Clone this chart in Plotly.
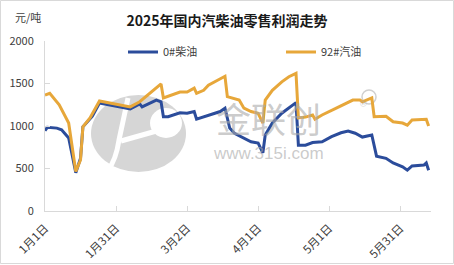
import plotly.graph_objects as go

# ---- data ----
diesel_dates = ["2025-01-01","2025-01-02","2025-01-06","2025-01-08","2025-01-11","2025-01-14",
    "2025-01-16","2025-01-17","2025-01-21","2025-01-24","2025-02-06","2025-02-10","2025-02-11",
    "2025-02-17","2025-02-19","2025-02-20","2025-02-22","2025-02-27","2025-03-02","2025-03-05",
    "2025-03-06","2025-03-09","2025-03-12","2025-03-16","2025-03-18","2025-03-20","2025-03-22",
    "2025-03-26","2025-03-29","2025-04-01","2025-04-03","2025-04-04","2025-04-07","2025-04-11",
    "2025-04-13","2025-04-17","2025-04-18","2025-04-21","2025-04-24","2025-04-28","2025-05-02",
    "2025-05-06","2025-05-09","2025-05-12","2025-05-15","2025-05-19","2025-05-21","2025-05-25",
    "2025-05-28","2025-06-01","2025-06-03","2025-06-05","2025-06-10","2025-06-11","2025-06-12"]
diesel_values = [945,985,975,955,860,450,
    620,990,1115,1270,1200,1260,1225,
    1305,1285,1110,1110,1155,1150,1170,
    1080,1105,1130,1170,1210,975,915,
    860,815,800,685,895,1035,1150,
    1190,1275,775,775,805,815,875,
    920,940,915,870,895,645,620,
    565,520,480,530,540,565,480]

gas_dates = ["2025-01-01","2025-01-03","2025-01-07","2025-01-11","2025-01-14","2025-01-16",
    "2025-01-17","2025-01-20","2025-01-24","2025-02-06","2025-02-10","2025-02-15","2025-02-19",
    "2025-02-20","2025-02-27","2025-03-02","2025-03-05","2025-03-06","2025-03-09","2025-03-11",
    "2025-03-18","2025-03-19","2025-03-24","2025-03-26","2025-03-29","2025-04-01","2025-04-03",
    "2025-04-04","2025-04-07","2025-04-11","2025-04-14","2025-04-17","2025-04-18","2025-04-21",
    "2025-04-24","2025-04-25","2025-04-28","2025-05-04","2025-05-08","2025-05-11","2025-05-14",
    "2025-05-15","2025-05-19","2025-05-20","2025-05-25","2025-05-28","2025-06-01","2025-06-03",
    "2025-06-05","2025-06-11","2025-06-12"]
gas_values = [1365,1385,1250,1035,465,600,
    990,1095,1295,1225,1285,1400,1495,
    1330,1400,1400,1445,1385,1420,1480,
    1585,1345,1305,1210,1170,1150,1035,
    1305,1420,1520,1580,1620,1095,1105,
    1130,1080,1130,1210,1270,1305,1305,
    1285,1330,1110,1115,1050,1035,1010,
    1070,1080,1000]

tick_dates = ["2025-01-01","2025-01-31","2025-03-02","2025-04-01","2025-05-01","2025-05-31"]
tick_labels = ["1月1日","1月31日","3月2日","4月1日","5月1日","5月31日"]
y_ticks = [0, 500, 1000, 1500, 2000]

title_text = "2025年国内汽柴油零售利润走势"
unit_text = "元/吨"
names = ["0#柴油", "92#汽油"]

# ---- figure ----
W, H = 454, 265
L, R, T, B = 45, 23, 41, 54
pw, ph = W - L - R, H - T - B

def px(x):  # pixel -> paper x
    return (x - L) / pw

def py(y):  # pixel -> paper y
    return (H - B - y) / ph

FONT = "Noto Sans CJK SC, Microsoft YaHei, sans-serif"
WM = "rgba(170,170,170,0.62)"

fig = go.Figure()
fig.add_trace(go.Scatter(x=diesel_dates, y=diesel_values, name=names[0], mode="lines",
                         line=dict(color="#2B4C9B", width=3), legend="legend"))
fig.add_trace(go.Scatter(x=gas_dates, y=gas_values, name=names[1], mode="lines",
                         line=dict(color="#E7A73A", width=3), legend="legend2"))

shapes = []
# watermark logo
shapes.append(dict(type="circle", xref="paper", yref="paper", layer="below",
                   x0=px(91), x1=px(186), y0=py(172), y1=py(95),
                   fillcolor="#d6d6d6", line=dict(width=0)))
shapes.append(dict(type="path", xref="paper", yref="paper", layer="below",
                   path=f"M {px(128)} {py(98)} L {px(119)} {py(140)} Q {px(116)} {py(160)} {px(108)} {py(170)}",
                   line=dict(color="white", width=5)))
shapes.append(dict(type="path", xref="paper", yref="paper", layer="below",
                   path=f"M {px(121)} {py(141)} L {px(160)} {py(130)}",
                   line=dict(color="white", width=5)))
shapes.append(dict(type="circle", xref="paper", yref="paper", layer="below",
                   x0=px(150), x1=px(182), y0=py(138), y1=py(108),
                   fillcolor="white", line=dict(width=0)))
shapes.append(dict(type="circle", xref="paper", yref="paper", layer="below",
                   x0=px(362), x1=px(376), y0=py(104), y1=py(90),
                   fillcolor="rgba(0,0,0,0)", line=dict(color="#d0d0d0", width=1.5)))
# outer frame
shapes.append(dict(type="rect", xref="paper", yref="paper", layer="below",
                   x0=px(0.5), x1=px(W - 0.5), y0=py(H - 1.5), y1=py(0.5),
                   line=dict(color="#d9d9d9", width=1)))

annotations = [
    dict(text="金联创", xref="paper", yref="paper", x=px(268), y=py(118), showarrow=False,
         font=dict(family=FONT, size=35, color=WM), borderpad=0),
    dict(text="www.315i.com", xref="paper", yref="paper", x=px(268), y=py(164), showarrow=False,
         font=dict(family="Arial, Liberation Sans, sans-serif", size=17, color=WM), borderpad=0),
    dict(text="®", xref="paper", yref="paper", x=px(369), y=py(97), showarrow=False,
         font=dict(family="Arial, Liberation Sans, sans-serif", size=9, color=WM)),
    dict(text=unit_text, xref="paper", yref="paper", x=px(13), y=py(17), showarrow=False,
         xanchor="left", yanchor="middle",
         font=dict(family=FONT, size=11, color="#404040")),
]

leg_common = dict(orientation="h", yanchor="middle", bgcolor="rgba(0,0,0,0)",
                  font=dict(family=FONT, size=11, color="#404040"), itemwidth=30)

fig.update_layout(
    width=W, height=H,
    margin=dict(l=L, r=R, t=T, b=B, autoexpand=False),
    paper_bgcolor="white", plot_bgcolor="white",
    font=dict(family=FONT, size=11, color="#404040"),
    title=dict(text=f"<b>{title_text}</b>", x=0.5, xanchor="center", y=1 - 21 / H, yanchor="middle",
               font=dict(family=FONT, size=14, color="#1a1a1a")),
    showlegend=True,
    legend=dict(x=px(123), y=py(52), xanchor="left", **leg_common),
    legend2=dict(x=px(281), y=py(52), xanchor="left", **leg_common),
    shapes=shapes,
    annotations=annotations,
)

fig.update_xaxes(
    type="date", range=["2025-01-01", "2025-06-13"],
    tickvals=tick_dates, ticktext=tick_labels, tickangle=-45,
    tickfont=dict(family=FONT, size=11.5, color="#404040"),
    showgrid=False, zeroline=False,
    showline=True, linecolor="#d9d9d9", linewidth=1,
    ticks="inside", ticklen=5, tickcolor="#d9d9d9",
    ticklabelstandoff=5,
)
fig.update_yaxes(
    range=[0, 2000], tickvals=y_ticks,
    tickfont=dict(family=FONT, size=11, color="#404040"),
    showgrid=False, zeroline=False,
    showline=True, linecolor="#d9d9d9", linewidth=1,
    ticks="inside", ticklen=5, tickcolor="#d9d9d9",
    ticklabelstandoff=8,
)

fig.write_html("out.html")
